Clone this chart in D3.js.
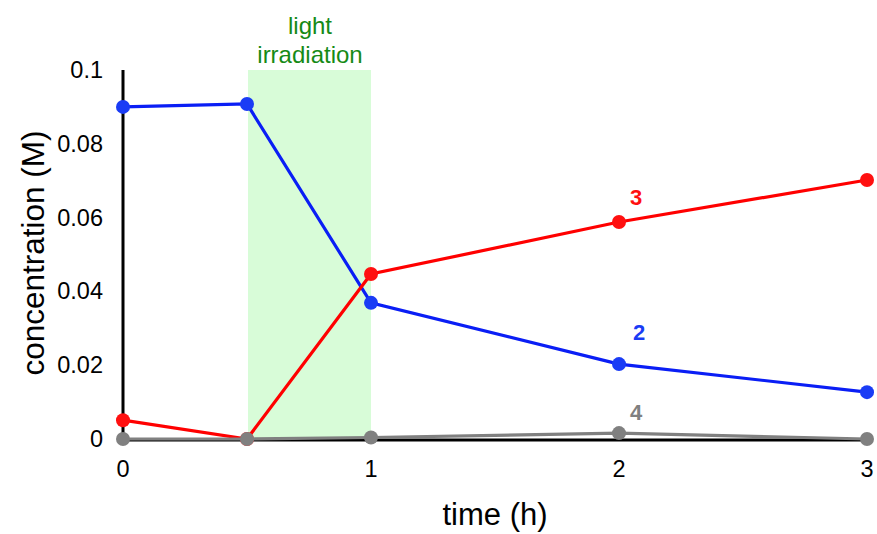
<!DOCTYPE html>
<html>
<head>
<meta charset="utf-8">
<script src="https://cdn.jsdelivr.net/npm/d3@7"></script>
<style>
  body { margin: 0; background: #fff; }
  text { font-family: "Liberation Sans", Arial, sans-serif; }
</style>
</head>
<body>
<div id="chart-container"></div>
<script>
// time points (h) and concentrations (M)
const times = [0, 0.5, 1, 2, 3];
const conc2 = [0.0900, 0.0908, 0.0369, 0.0203, 0.0127];
const conc3 = [0.0051, 0.0000, 0.0447, 0.0588, 0.0702];
const conc4 = [0.0000, 0.0000, 0.0004, 0.0016, 0.0000];
const xTicks = [0, 1, 2, 3];
const yTicks = [0, 0.02, 0.04, 0.06, 0.08, 0.1];
const lightWindow = [0.5, 1];

const series = [
  { name: "2", values: conc2, line: "#0a1ef5", dot: "#1a3cf5", labelAt: 2, labelDx: 20, labelDy: -24 },
  { name: "3", values: conc3, line: "#ff0000", dot: "#ff1010", labelAt: 2, labelDx: 17, labelDy: -17 },
  { name: "4", values: conc4, line: "#808080", dot: "#808080", labelAt: 2, labelDx: 17, labelDy: -13 }
];

let width = 877, height = 534,
    margin = { top: 70, right: 10, bottom: 95, left: 123 },
    svg = d3.select("#chart-container").append("svg").attr("width", width).attr("height", height);

let x = d3.scaleLinear().domain([0, 3]).range([margin.left, 867]),
    y = d3.scaleLinear().domain([0, 0.1]).range([439, margin.top]);

// light irradiation band
svg.append("rect")
    .attr("x", x(lightWindow[0]) + 1)
    .attr("y", y(0.1))
    .attr("width", x(lightWindow[1]) - x(lightWindow[0]) - 1)
    .attr("height", y(0) - y(0.1))
    .attr("fill", "#d8fcd8");

svg.append("text")
    .attr("text-anchor", "middle")
    .attr("fill", "#168a16")
    .attr("font-size", 24)
    .selectAll("tspan")
    .data(["light", "irradiation"])
    .join("tspan")
    .attr("x", (x(lightWindow[0]) + x(lightWindow[1])) / 2 + 1)
    .attr("y", (d, i) => 34 + i * 29)
    .text(d => d);

// axes
svg.append("line")
    .attr("x1", x(0)).attr("x2", x(3))
    .attr("y1", y(0) + 1).attr("y2", y(0) + 1)
    .attr("stroke", "#000").attr("stroke-width", 3);

svg.append("line")
    .attr("x1", x(0)).attr("x2", x(0))
    .attr("y1", y(0.1)).attr("y2", y(0) + 2)
    .attr("stroke", "#000").attr("stroke-width", 3);

svg.append("g")
    .selectAll("text")
    .data(yTicks)
    .join("text")
    .attr("x", 103)
    .attr("y", d => y(d) + 8)
    .attr("text-anchor", "end")
    .attr("font-size", 23.5)
    .text(d => d3.format("~g")(d));

svg.append("g")
    .selectAll("text")
    .data(xTicks)
    .join("text")
    .attr("x", d => x(d))
    .attr("y", 477)
    .attr("text-anchor", "middle")
    .attr("font-size", 23.5)
    .text(d => d);

svg.append("text")
    .attr("transform", `translate(44,253)rotate(-90)`)
    .attr("text-anchor", "middle")
    .attr("font-size", 31.5)
    .text("concentration (M)");

svg.append("text")
    .attr("x", 495)
    .attr("y", 525)
    .attr("text-anchor", "middle")
    .attr("font-size", 31)
    .text("time (h)");

// series
let line = d3.line()
    .x((d, i) => x(times[i]))
    .y(d => y(d));

series.forEach(s => {
  let g = svg.append("g");
  g.append("path")
      .datum(s.values)
      .attr("fill", "none")
      .attr("stroke", s.line)
      .attr("stroke-width", 3.2)
      .attr("d", line);
  g.selectAll("circle")
      .data(s.values)
      .join("circle")
      .attr("cx", (d, i) => x(times[i]))
      .attr("cy", d => y(d))
      .attr("r", 7)
      .attr("fill", s.dot);
  let i = times.indexOf(s.labelAt);
  g.append("text")
      .attr("x", x(times[i]) + s.labelDx)
      .attr("y", y(s.values[i]) + s.labelDy)
      .attr("text-anchor", "middle")
      .attr("font-size", 22)
      .attr("font-weight", "bold")
      .attr("fill", s.dot)
      .text(s.name);
});
</script>
</body>
</html>
